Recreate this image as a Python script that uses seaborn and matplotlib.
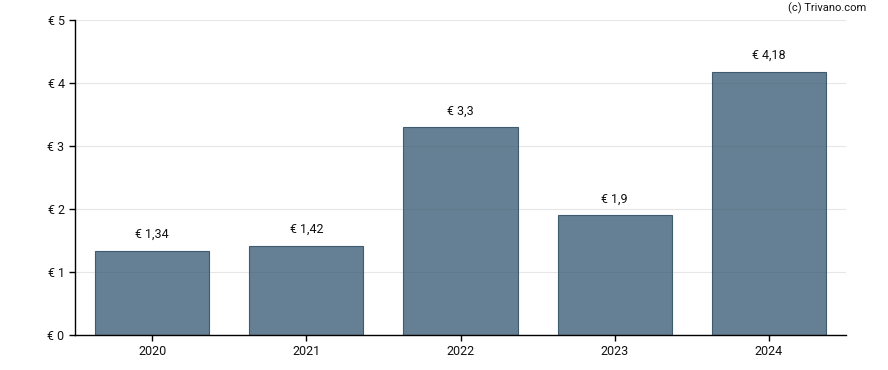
import pandas as pd
import matplotlib
matplotlib.use("Agg")
import matplotlib.pyplot as plt
import seaborn as sns

# Chart data
years = ["2020", "2021", "2022", "2023", "2024"]
values = [1.34, 1.42, 3.3, 1.9, 4.18]
labels = ["€ 1,34", "€ 1,42", "€ 3,3", "€ 1,9", "€ 4,18"]
yticks = [0, 1, 2, 3, 4, 5]
ytick_labels = ["€ 0", "€ 1", "€ 2", "€ 3", "€ 4", "€ 5"]

sns.set_style("white")
plt.rcParams["font.family"] = ["Roboto", "DejaVu Sans"]

df = pd.DataFrame({"year": years, "value": values})

fig = plt.figure(figsize=(8.88, 3.7), dpi=100)
ax = fig.add_axes([75 / 888, 1 - 335 / 370, 771 / 888, 315 / 370])

sns.barplot(
    data=df,
    x="year",
    y="value",
    color="#325670",
    width=0.74,
    linewidth=0.8,
    ax=ax,
    zorder=2,
)
# semi-transparent fill, solid-ish edge
for p in ax.patches:
    p.set_alpha(None)
    p.set_facecolor((0x32 / 255, 0x56 / 255, 0x70 / 255, 0.75))
    p.set_edgecolor("#3f5b70")

# value labels above bars
for i, (v, lab) in enumerate(zip(values, labels)):
    ax.annotate(lab, (i, v), xytext=(0, 7), textcoords="offset points",
                ha="center", va="bottom", fontsize=9, color="#111111")

ax.set_xlim(-0.5, 4.5)
ax.set_ylim(0, 5)
ax.set_yticks(yticks)
ax.set_yticklabels(ytick_labels)
ax.grid(axis="y", color="#e6e6e6", linewidth=0.8, zorder=0)
ax.set_axisbelow(True)
ax.set_xlabel("")
ax.set_ylabel("")

for s in ["top", "right"]:
    ax.spines[s].set_visible(False)
for s in ["left", "bottom"]:
    ax.spines[s].set_color("black")
    ax.spines[s].set_linewidth(1.0)

ax.tick_params(axis="both", which="both", direction="out", length=4,
               width=1, color="black", labelsize=9, labelcolor="#111111",
               left=True, bottom=True)

fig.text(866 / 888, 1 - 8 / 370, "(c) Trivano.com", ha="right", va="center",
         fontsize=8, color="#111111")

fig.savefig("out.png", dpi=100)
